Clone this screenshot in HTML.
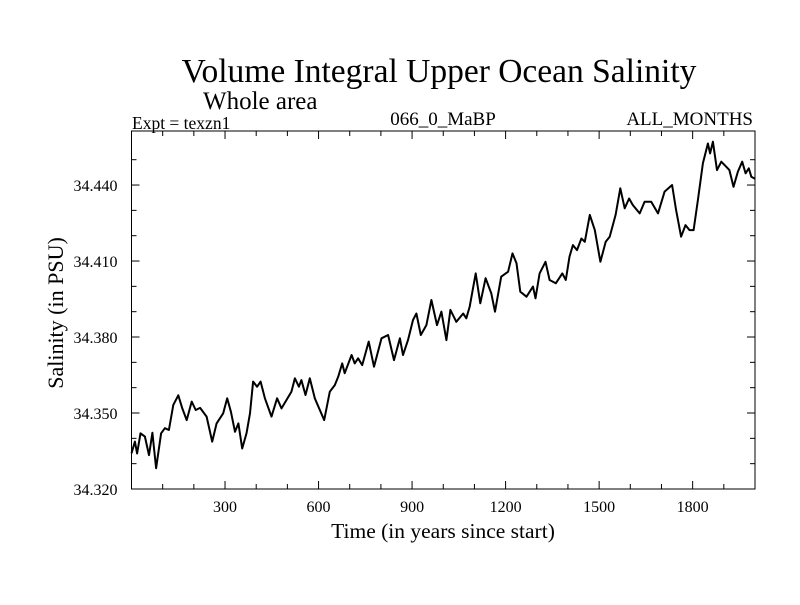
<!DOCTYPE html>
<html><head><meta charset="utf-8"><style>
body{margin:0;background:#fff}
svg text{font-family:"Liberation Serif",serif;fill:#000}
</style></head><body>
<svg width="800" height="600" xmlns="http://www.w3.org/2000/svg">
<text x="439" y="82" font-size="33.5" text-anchor="middle">Volume Integral Upper Ocean Salinity</text>
<text x="203" y="109" font-size="25">Whole area</text>
<text x="132" y="129" font-size="17.5">Expt = texzn1</text>
<text x="443" y="125" font-size="19" text-anchor="middle">066_0_MaBP</text>
<text x="753" y="125" font-size="19" text-anchor="end">ALL_MONTHS</text>
<text transform="translate(63,313) rotate(-90)" font-size="22" text-anchor="middle">Salinity (in PSU)</text>
<text x="443" y="538" font-size="21.5" text-anchor="middle">Time (in years since start)</text>
<g id="axes"></g>
<path id="series" fill="none" stroke="#000" stroke-width="2" stroke-linejoin="round"/>
<rect x="131.5" y="131" width="623.5" height="358" fill="none" stroke="#000" stroke-width="1"/>
</svg>
<script>
const years=[0,11,18,29,43,56,67,79,95,107,120,134,150,163,177,193,206,220,241,259,273,294,307,319,332,343,355,369,380,390,403,414,428,449,467,481,497,513,524,537,545,558,572,588,618,636,652,663,676,684,706,716,727,740,761,778,802,823,842,861,871,887,903,914,928,946,962,980,994,1010,1023,1042,1064,1074,1085,1104,1119,1136,1154,1166,1186,1208,1222,1235,1247,1267,1288,1296,1309,1328,1341,1361,1382,1393,1405,1416,1429,1443,1454,1470,1486,1504,1521,1534,1553,1568,1582,1596,1608,1630,1646,1667,1689,1710,1734,1747,1763,1777,1790,1803,1817,1833,1849,1856,1865,1878,1892,1908,1918,1931,1945,1959,1970,1980,1988,2000];
const salinity=[34.3341,34.3387,34.334,34.342,34.3407,34.3334,34.3422,34.3282,34.342,34.344,34.3433,34.3532,34.357,34.3518,34.3472,34.3545,34.3512,34.352,34.3486,34.3387,34.3459,34.3499,34.3558,34.3505,34.3426,34.3459,34.336,34.342,34.3499,34.3624,34.3604,34.3624,34.3558,34.3486,34.3558,34.3518,34.3551,34.3584,34.3637,34.3604,34.363,34.3571,34.3637,34.3558,34.3472,34.3584,34.361,34.3643,34.3696,34.3657,34.3729,34.3696,34.3716,34.3689,34.3782,34.3683,34.3795,34.3808,34.3709,34.3795,34.3729,34.3788,34.3867,34.3893,34.3808,34.3847,34.3946,34.3847,34.39,34.3788,34.3907,34.386,34.3893,34.3874,34.392,34.4051,34.3933,34.4032,34.3972,34.39,34.4038,34.4058,34.413,34.4091,34.3979,34.3959,34.3999,34.3953,34.4051,34.4097,34.4025,34.4012,34.4051,34.4025,34.4117,34.4163,34.4143,34.4189,34.4176,34.4282,34.4222,34.4097,34.4176,34.4196,34.4282,34.4387,34.4308,34.4347,34.4321,34.4288,34.4334,34.4334,34.4288,34.4374,34.44,34.4301,34.4196,34.4242,34.4222,34.4222,34.4341,34.4486,34.4564,34.4525,34.4571,34.4459,34.4492,34.4472,34.4459,34.4393,34.4453,34.4492,34.4446,34.4466,34.4433,34.4425];
const xTickLabels=[300,600,900,1200,1500,1800];
const yTickLabels=["34.320","34.350","34.380","34.410","34.440"];
const X0=131.5,X1=755,Y0=489,Y1=131,XMIN=0,XMAX=2000,YMIN=34.320,YMAX=34.46133;
const sx=v=>X0+(v-XMIN)/(XMAX-XMIN)*(X1-X0);
const sy=v=>Y0-(v-YMIN)/(YMAX-YMIN)*(Y0-Y1);
const NS="http://www.w3.org/2000/svg";
const g=document.getElementById('axes');
function line(x1,y1,x2,y2){const l=document.createElementNS(NS,'line');l.setAttribute('x1',x1);l.setAttribute('y1',y1);l.setAttribute('x2',x2);l.setAttribute('y2',y2);l.setAttribute('stroke','#000');


g.appendChild(l);}
for(let v=100;v<XMAX;v+=100){const x=sx(v);const L=(v%300===0)?8:5;line(x,Y0,x,Y0-L);line(x,Y1,x,Y1+L);}
for(let k=1;k<14;k++){const v=YMIN+k*0.01;const y=sy(v);const L=(k%3===0)?8:5;line(X0,y,X0+L,y);line(X1,y,X1-L,y);}
xTickLabels.forEach(v=>{const t=document.createElementNS(NS,'text');t.setAttribute('x',sx(v));t.setAttribute('y',Y0+23);t.setAttribute('font-size','16');t.setAttribute('text-anchor','middle');t.textContent=v;


g.appendChild(t);});
yTickLabels.forEach(s=>{const t=document.createElementNS(NS,'text');t.setAttribute('x',X0-14);t.setAttribute('y',sy(parseFloat(s))+6);t.setAttribute('font-size','16');t.setAttribute('text-anchor','end');t.textContent=s;


g.appendChild(t);});
document.getElementById('series').setAttribute('d',years.map((y,i)=>(i?'L':'M')+sx(y).toFixed(1)+' '+sy(salinity[i]).toFixed(1)).join(' '));
</script>
</body></html>
